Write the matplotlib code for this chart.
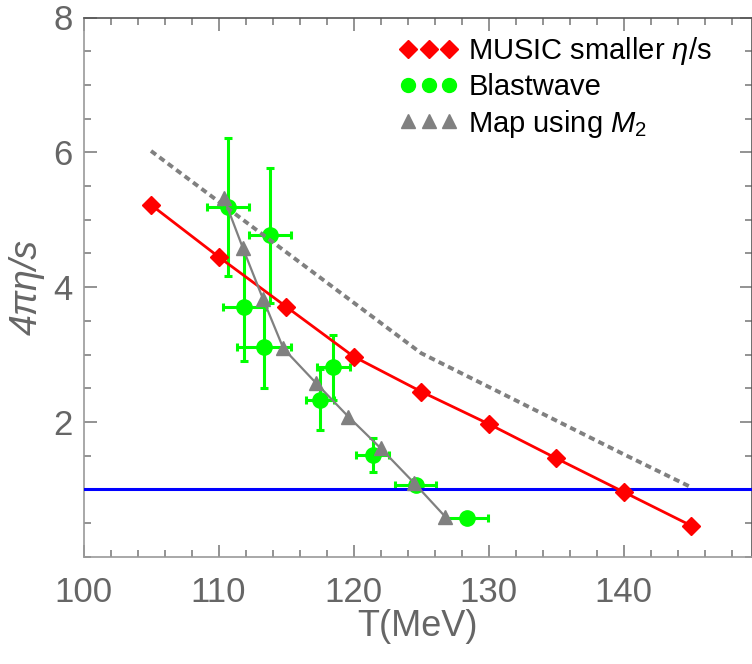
import numpy as np
import matplotlib
matplotlib.use("Agg")
import matplotlib.pyplot as plt
from matplotlib.lines import Line2D
from matplotlib.ticker import MultipleLocator

plt.rcParams['font.family'] = ['Liberation Sans', 'DejaVu Sans']
plt.rcParams['mathtext.fontset'] = 'custom'
plt.rcParams['mathtext.rm'] = 'Liberation Sans'
plt.rcParams['mathtext.it'] = 'Liberation Sans:italic'

# MUSIC smaller eta/s
t_music = [105, 110, 115, 120, 125, 130, 135, 140, 145]
v_music = [5.22, 4.45, 3.71, 2.97, 2.45, 1.97, 1.46, 0.96, 0.46]

# gray dashed curve
t_dash = [105, 110, 115, 120, 125, 130, 135, 140, 145]
v_dash = [6.02, 5.27, 4.52, 3.77, 3.02, 2.52, 2.02, 1.52, 1.03]

# Blastwave points with errors
t_bw = [110.7, 113.8, 111.9, 113.4, 117.5, 118.5, 121.4, 124.6, 128.4]
v_bw = [5.19, 4.77, 3.70, 3.11, 2.33, 2.81, 1.51, 1.07, 0.57]
terr_bw = [1.55, 1.55, 1.55, 2.0, 1.05, 1.2, 1.2, 1.5, 1.55]
verr_bw = [1.02, 1.0, 0.79, 0.6, 0.45, 0.48, 0.25, 0.05, 0.03]

# Map using M2
t_map = [110.4, 111.8, 113.3, 114.8, 117.2, 119.6, 122.0, 124.5, 126.8]
v_map = [5.32, 4.58, 3.82, 3.09, 2.58, 2.08, 1.61, 1.09, 0.59]

kss = 1.0

GREEN = '#00ff00'
GRAY = '#808080'
RED = '#ff0000'
TXT = '#666666'

fig = plt.figure(figsize=(7.52, 6.64), dpi=100)
ax = fig.add_axes([83.5 / 752, (664 - 556.7) / 664, 668.5 / 752, 539.2 / 664])

ax.errorbar(t_bw, v_bw, xerr=terr_bw, yerr=verr_bw, fmt='o', color=GREEN,
            ms=11, elinewidth=2.2, capsize=2.8, capthick=2.2, zorder=2)
ax.axhline(kss, color='#0000ff', lw=2.2, zorder=3)
ax.plot(t_music, v_music, '-', color=RED, lw=2.0, marker='D', ms=9.5, zorder=4)
ax.plot(t_map, v_map, '-', color=GRAY, lw=1.6, marker='^', ms=10.5, zorder=5)
ax.plot(t_dash, v_dash, color=GRAY, lw=2.8, linestyle=(0, (1.6, 1.1)), zorder=6)

ax.set_xlim(100, 149.5)
ax.set_ylim(0, 8)
ax.set_xticks([100, 110, 120, 130, 140])
ax.set_yticks([2, 4, 6, 8])
ax.xaxis.set_minor_locator(MultipleLocator(2))
ax.yaxis.set_minor_locator(MultipleLocator(0.5))

ax.tick_params(which='both', direction='in', top=True, right=True,
               labelsize=25, labelcolor=TXT, color=GRAY)
ax.tick_params(which='major', length=9, width=1.2)
ax.tick_params(which='minor', length=5, width=1.2)
ax.tick_params(axis='x', pad=14)
ax.tick_params(axis='y', pad=8)

for side in ['left', 'bottom']:
    ax.spines[side].set_color('#999999')
    ax.spines[side].set_linewidth(1.2)
for side in ['top', 'right']:
    ax.spines[side].set_color('#555555')
    ax.spines[side].set_linewidth(1.2)

ax.set_xlabel('T(MeV)', fontsize=26, color=TXT, labelpad=0)
ax.set_ylabel('4πη/s', fontsize=27, color=TXT, style='italic', labelpad=6)

handles = [
    Line2D([], [], ls='none', marker='D', color=RED, ms=9),
    Line2D([], [], ls='none', marker='o', color=GREEN, ms=10),
    Line2D([], [], ls='none', marker='^', color=GRAY, ms=10.5),
]
labels = ['MUSIC smaller $\\eta$/s', 'Blastwave', 'Map using $M_2$']
ax.legend(handles, labels, loc='upper left', bbox_to_anchor=(0.473, 0.968),
          frameon=False, numpoints=3, fontsize=21, handlelength=2.0,
          handletextpad=0.35, labelspacing=0.22, borderpad=0, borderaxespad=0)

fig.savefig('out.png', dpi=100)
